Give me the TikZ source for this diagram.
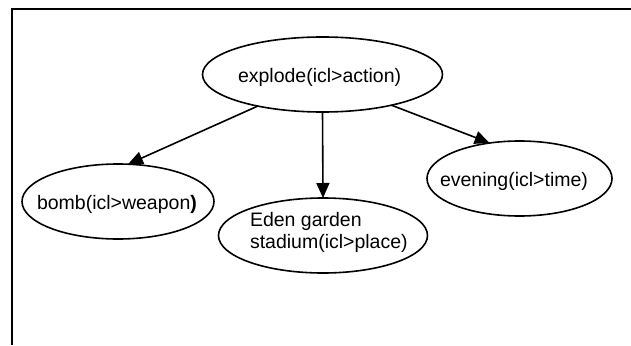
\documentclass[tikz,border=0pt]{standalone}
\usepackage{fontspec}
\setmainfont{Liberation Sans}
\usetikzlibrary{shapes.geometric,arrows.meta}
\begin{document}
\begin{tikzpicture}[x=1pt,y=-1pt,
  oval/.style={ellipse,draw=black,line width=1.6pt,inner sep=0pt,outer sep=0pt},
  lbl/.style={inner sep=0pt,outer sep=0pt,anchor=base west,font=\fontsize{19.5}{22}\selectfont},
  conn/.style={line width=1.6pt,-{Triangle[length=15pt,width=13pt]}}]
\useasboundingbox (0,0) rectangle (631,345);
% frame
\coordinate (ftl) at (11.5,9.5);
\coordinate (ftr) at (631,9.5);
\coordinate (fbl) at (11.5,345);
\draw[line width=2pt] (ftr) -- (ftl) -- (fbl);
% ellipses
\node[oval,minimum width=240pt,minimum height=75pt] (explode) at (322.5,74.5) {};
\node[oval,minimum width=192pt,minimum height=75pt] (bomb) at (118,201.5) {};
\node[oval,minimum width=209pt,minimum height=75pt] (eden) at (323,235.5) {};
\node[oval,minimum width=185pt,minimum height=75pt] (evening) at (519.5,178.5) {};
% texts
\node[lbl] (texp) at (238,82.5) {explode(icl>action)};
\node[lbl] (tbomb) at (37,209) {bomb(icl>weapon{\bfseries )}};
\node[lbl] (teden1) at (250,226) {Eden garden};
\node[lbl] (teden2) at (250,248) {stadium(icl>place)};
\node[lbl] (teve) at (440,186) {evening(icl>time)};
% connectors
\draw[conn] (explode.206) -- (bomb.75);
\draw[conn] (explode.south) -- (eden.north);
\draw[conn] (explode.336) -- (evening.130);
\end{tikzpicture}
\end{document}
